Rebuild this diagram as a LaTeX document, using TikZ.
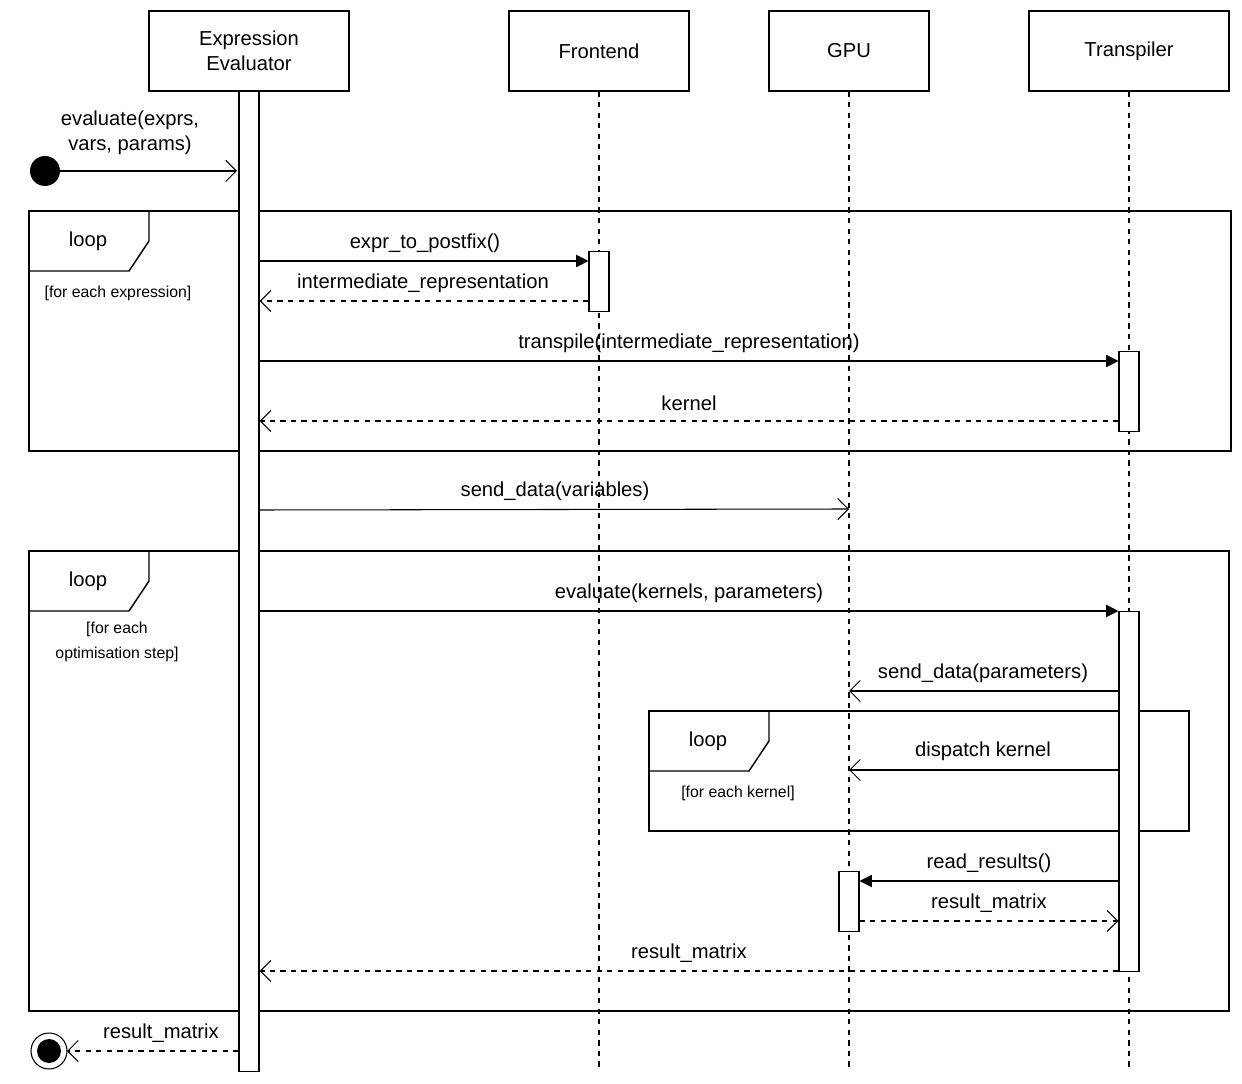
\documentclass[tikz,border=0pt]{standalone}
\usepackage{fontspec}
\setmainfont{Liberation Sans}
\usetikzlibrary{arrows.meta,positioning}
\tikzset{
  party/.style={rectangle, draw, minimum width=4cm, minimum height=1.6cm, align=center, font=\fontsize{11.5}{14}\selectfont},
  bar/.style={rectangle, draw, fill=white, minimum width=0.4cm, inner sep=0pt},
  life/.style={dashed, line width=0.6pt},
  call/.style={-{Triangle[length=7pt,width=7pt]}},
  msg/.style={-{Straight Barb[length=6pt,width=12pt]}},
  reply/.style={dashed, -{Straight Barb[length=6pt,width=12pt]}},
  lbl/.style={font=\fontsize{11.5}{14}\selectfont, align=center, inner sep=1pt},
  guard/.style={font=\fontsize{9}{14}\selectfont, align=center},
  frame/.style={draw, line width=0.8pt}
}
\begin{document}
\begin{tikzpicture}[x=0.02cm, y=-0.02cm, line width=0.6pt]
        \useasboundingbox (0,0) rectangle (1242,1084);
        % parties
        \node[party] (ee) at (249,51) {Expression\\Evaluator};
        \node[party, minimum width=3.6cm] (fe) at (599,51) {Frontend};
        \node[party, minimum width=3.2cm] (gpu) at (849,51) {GPU};
        \node[party] (tr) at (1129,51) {Transpiler};

        \draw[life] (fe.south) -- (599,1070);
        \draw[life] (gpu.south) -- (849,1070);
        \draw[life] (tr.south) -- (1129,1070);

        % frames
        \draw[frame] (29,211) rectangle (1231,451);
        \draw[frame] (29,271) -- (129,271) -- (149,241) -- (149,211);
        \node[lbl] at (88,241) {loop};
        \node[guard] at (118,293) {[for each expression]};

        \draw[frame] (29,551) rectangle (1229,1011);
        \draw[frame] (29,611) -- (129,611) -- (149,581) -- (149,551);
        \node[lbl] at (88,581) {loop};
        \node[guard] at (117,642) {[for each\\optimisation step]};

        \draw[frame] (649,711) rectangle (1189,831);
        \draw[frame] (649,771) -- (749,771) -- (769,741) -- (769,711);
        \node[lbl] at (708,741) {loop};
        \node[guard] at (738,793) {[for each kernel]};

        % activation bars
        \node[bar, minimum height=19.6cm, anchor=north] (eeBar) at (249,91) {};
        \node[bar, minimum height=1.2cm, anchor=north] (feBar) at (599,251) {};
        \node[bar, minimum height=1.6cm, anchor=north] (trBarA) at (1129,351) {};
        \node[bar, minimum height=7.2cm, anchor=north] (trBarB) at (1129,611) {};
        \node[bar, minimum height=1.2cm, anchor=north] (gpuBar) at (849,871) {};

        % start and end
        \fill (45,171) circle (0.3cm) coordinate (start);
        \draw[msg] (start) -- (237,171);
        \node[lbl] at (130,133) {evaluate(exprs,\\vars, params)};
        \coordinate (stop) at (49,1051);
        \draw (stop) circle (0.36cm);
        \fill (stop) circle (0.24cm);
        \draw[reply] (eeBar.west |- 0,1051) -- (67,1051);
        \node[lbl] at (161,1033) {result\_matrix};

        % messages
        \draw[call] (eeBar.east |- 0,261) -- (feBar.west |- 0,261);
        \node[lbl] at (425,243) {expr\_to\_postfix()};
        \draw[reply] (feBar.west |- 0,301) -- (eeBar.east |- 0,301);
        \node[lbl] at (423,283) {intermediate\_representation};
        \draw[call] (eeBar.east |- 0,361) -- (trBarA.west |- 0,361);
        \node[lbl] at (689,343) {transpile(intermediate\_representation)};
        \draw[reply] (trBarA.west |- 0,421) -- (eeBar.east |- 0,421);
        \node[lbl] at (689,403) {kernel};

        \draw[msg] (eeBar.east |- 0,510) -- (849,509);
        \node[lbl] at (555,491) {send\_data(variables)};

        \draw[call] (eeBar.east |- 0,611) -- (trBarB.west |- 0,611);
        \node[lbl] at (689,593) {evaluate(kernels, parameters)};
        \draw[msg] (trBarB.west |- 0,691) -- (849,691);
        \node[lbl] at (983,673) {send\_data(parameters)};
        \draw[msg] (trBarB.west |- 0,770) -- (849,770);
        \node[lbl] at (983,751) {dispatch kernel};
        \draw[call] (trBarB.west |- 0,881) -- (gpuBar.east |- 0,881);
        \node[lbl] at (989,863) {read\_results()};
        \draw[reply] (gpuBar.east |- 0,921) -- (trBarB.west |- 0,921);
        \node[lbl] at (989,903) {result\_matrix};
        \draw[reply] (trBarB.west |- 0,971) -- (eeBar.east |- 0,971);
        \node[lbl] at (689,953) {result\_matrix};
\end{tikzpicture}
\end{document}
